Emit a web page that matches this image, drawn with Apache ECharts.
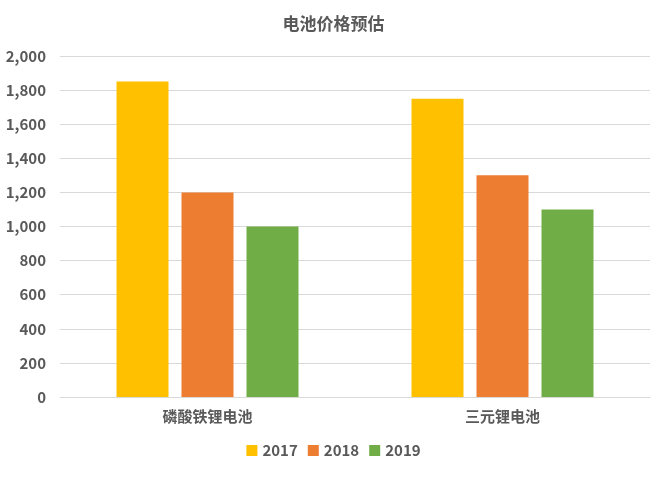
<!DOCTYPE html>
<html>
<head>
<meta charset="UTF-8">
<title>电池价格预估</title>
<script src="https://cdn.jsdelivr.net/npm/echarts@6/dist/echarts.min.js"></script>
<style>html,body{margin:0;padding:0;background:#fff}#chart{width:667px;height:479px}</style>
</head>
<body>
<div id="chart"></div>
<script>
var categories = ['磷酸铁锂电池', '三元锂电池'];
var seriesNames = ['2017', '2018', '2019'];
var values2017 = [1850, 1750];
var values2018 = [1200, 1300];
var values2019 = [1000, 1100];
var colors = ['#FFC000', '#ED7D31', '#70AD47'];

var font = '"Microsoft YaHei","Noto Sans CJK SC",sans-serif';
var chart = echarts.init(document.getElementById('chart'));
var data = [values2017, values2018, values2019];
chart.setOption({
    animation: false,
    color: colors,
    textStyle: { fontFamily: font },
    title: {
        text: '电池价格预估', left: 'center', top: 10,
        textStyle: { fontSize: 17, fontWeight: 'bold', color: '#595959', fontFamily: font }
    },
    legend: {
        bottom: 16, itemWidth: 11, itemHeight: 11, itemGap: 10,
        icon: 'rect',
        textStyle: { fontSize: 15, fontWeight: 'bold', color: '#595959' },
        data: seriesNames
    },
    grid: { left: 60, right: 17, top: 56, bottom: 82 },
    xAxis: {
        type: 'category', data: categories,
        axisLine: { lineStyle: { color: '#D9D9D9' } },
        axisTick: { show: false },
        axisLabel: { fontSize: 15, fontWeight: 'bold', color: '#595959', margin: 12 }
    },
    yAxis: {
        type: 'value', min: 0, max: 2000, interval: 200,
        axisLine: { show: false }, axisTick: { show: false },
        splitLine: { lineStyle: { color: '#D9D9D9' } },
        axisLabel: { fontSize: 15, fontWeight: 'bold', color: '#595959', margin: 14 }
    },
    series: seriesNames.map(function (n, i) {
        return { name: n, type: 'bar', data: data[i], barWidth: 52, barGap: '25%' };
    })
});
</script>
</body>
</html>
